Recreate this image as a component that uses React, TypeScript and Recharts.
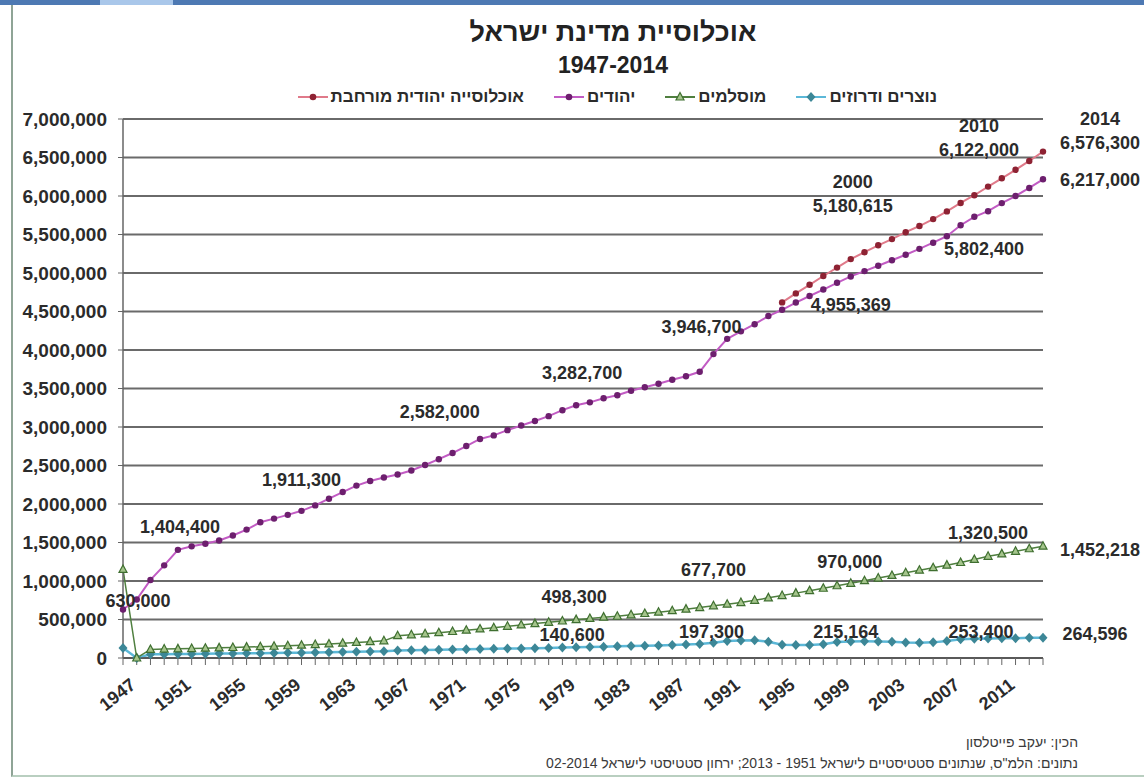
import React from "react";
import { LineChart, Line, XAxis, YAxis, CartesianGrid, LabelList } from "recharts";

const years = [
  1947, 1948, 1949, 1950, 1951, 1952, 1953, 1954, 1955, 1956, 1957, 1958, 1959, 1960, 1961, 1962, 1963,
  1964, 1965, 1966, 1967, 1968, 1969, 1970, 1971, 1972, 1973, 1974, 1975, 1976, 1977, 1978, 1979, 1980,
  1981, 1982, 1983, 1984, 1985, 1986, 1987, 1988, 1989, 1990, 1991, 1992, 1993, 1994, 1995, 1996, 1997,
  1998, 1999, 2000, 2001, 2002, 2003, 2004, 2005, 2006, 2007, 2008, 2009, 2010, 2011, 2012, 2013, 2014,
];

// יהודים
const jews = [
  630000, 759000, 1013900, 1203000, 1404400, 1450200, 1483600, 1526000, 1590500, 1667500, 1762700,
  1810200, 1858800, 1911300, 1981700, 2068900, 2155500, 2239200, 2299100, 2344900, 2383600, 2434800,
  2506800, 2582000, 2662000, 2752700, 2845000, 2890700, 2959400, 3020400, 3077300, 3141200, 3218400,
  3282700, 3320300, 3373200, 3412500, 3471700, 3517200, 3561400, 3612900, 3659000, 3717100, 3946700,
  4144600, 4242500, 4335200, 4441100, 4522300, 4616100, 4701600, 4785100, 4872800, 4955369, 5025000,
  5094200, 5165400, 5237600, 5313800, 5393400, 5478200, 5620000, 5730000, 5802400, 5907500, 5999600,
  6104500, 6217000,
];

// אוכלוסייה יהודית מורחבת
const expanded = [
  null, null, null, null, null, null, null, null, null, null, null, null, null, null, null, null, null,
  null, null, null, null, null, null, null, null, null, null, null, null, null, null, null, null, null,
  null, null, null, null, null, null, null, null, null, null, null, null, null, null,
  4618000, 4735000, 4847000, 4961000, 5070000, 5180615, 5270000, 5360000, 5440000, 5530000, 5610000,
  5700000, 5800000, 5910000, 6010000, 6122000, 6230000, 6340000, 6455000, 6576300,
];

// מוסלמים
const muslims = [
  1150000, 0, 111500, 116100, 118900, 122800, 127600, 131800, 136300, 141400, 146800, 152800, 159200,
  166300, 174900, 183000, 192200, 202300, 212400, 223000, 289600, 300800, 314500, 328600, 344000, 361000,
  377000, 394000, 411400, 429100, 446500, 463600, 480400, 498300, 513700, 530800, 542200, 561000, 577600,
  595000, 614500, 634600, 655200, 677700, 699000, 720000, 749000, 781000, 811200, 842500, 874600, 906000,
  938000, 970000, 1004000, 1038000, 1072000, 1107000, 1140000, 1173000, 1206000, 1240000, 1280000,
  1320500, 1352000, 1386000, 1419000, 1452218,
];

// נוצרים ודרוזים
const christians = [
  130000, 0, 48500, 50300, 51700, 53300, 55000, 57000, 58800, 60700, 62500, 64500, 66600, 68800, 71400,
  74100, 77000, 80100, 83200, 86400, 97000, 100600, 103800, 106700, 109700, 112800, 115800, 118800,
  121800, 124800, 127700, 131000, 135500, 140600, 144000, 147500, 151000, 155000, 159000, 163000, 168000,
  174000, 181000, 197300, 222000, 228000, 232000, 210000, 172000, 168000, 170000, 178000, 208000, 215164,
  216000, 215000, 212000, 200000, 198000, 203000, 222000, 243000, 250000, 253400, 258000, 255000, 262000,
  264596,
];

const yTicks = [
  0, 500000, 1000000, 1500000, 2000000, 2500000, 3000000, 3500000, 4000000, 4500000, 5000000, 5500000,
  6000000, 6500000, 7000000,
];

const data = years.map((year, i) => ({
  year,
  jews: jews[i],
  expanded: expanded[i],
  muslims: muslims[i],
  christians: christians[i],
}));

// label offsets from the point, by year
const jewsLabels: Record<number, [number, number]> = {
  1947: [15, -8], 1951: [2, -23], 1960: [0, -31], 1970: [1, -47], 1980: [6, -32],
  1990: [-12, -27], 2000: [0, 29], 2010: [-4, 38], 2014: [57, 1],
};
const expandedLabels: Record<number, [number, number]> = {
  2000: [2, -53], 2010: [-9, -37], 2014: [57, -9],
};
const muslimLabels: Record<number, [number, number]> = {
  1980: [-2, -23], 1990: [0, -36], 2000: [-1, -21], 2010: [0, -23], 2014: [57, 4],
};
const christianLabels: Record<number, [number, number]> = {
  1980: [-4, -12], 1990: [-2, -11], 2000: [-5, -9], 2010: [-7, -6], 2014: [52, -4],
};

const FONT = '"Liberation Sans", "DejaVu Sans", Arial, sans-serif';
const TEXT = "#2b2b2b";

const COLORS = {
  jews: { line: "#c25bc4", mark: "#6d1f6e" },
  expanded: { line: "#e07a8a", mark: "#8e2233" },
  muslims: { line: "#4f7f3f", mark: "#3f6f30", fill: "#a5c58c" },
  christians: { line: "#5cb8d8", mark: "#3c8797" },
};

const fmt = (v: number) => v.toLocaleString("en-US");

const makeLabel = (offsets: Record<number, [number, number]>, showYear = false) => (props: any) => {
  const { x, y, value, index } = props;
  if (value == null || x == null || y == null) return null;
  const year = years[index];
  const off = offsets[year];
  if (!off) return null;
  const lx = x + off[0];
  const ly = y + off[1];
  const style = { fontSize: 18, fontWeight: 700, fill: TEXT, fontFamily: FONT };
  return (
    <g key={`lbl-${index}`}>
      {showYear && (
        <text x={lx} y={ly - 24} textAnchor="middle" dominantBaseline="central" {...style}>
          {year}
        </text>
      )}
      <text x={lx} y={ly} textAnchor="middle" dominantBaseline="central" {...style}>
        {fmt(value)}
      </text>
    </g>
  );
};

const circleDot = (fill: string) => (props: any) => {
  const { cx, cy, index } = props;
  if (cy == null || cx == null) return <g key={`d-${index}`} />;
  return <circle key={`d-${index}`} cx={cx} cy={cy} r={3.2} fill={fill} />;
};

const triangleDot = (props: any) => {
  const { cx, cy, index } = props;
  if (cy == null || cx == null) return <g key={`t-${index}`} />;
  return (
    <path
      key={`t-${index}`}
      d={`M${cx},${cy - 4.5} L${cx + 4},${cy + 3} L${cx - 4},${cy + 3} Z`}
      fill={COLORS.muslims.fill}
      stroke={COLORS.muslims.mark}
      strokeWidth={1.2}
    />
  );
};

const diamondDot = (props: any) => {
  const { cx, cy, index } = props;
  if (cy == null || cx == null) return <g key={`m-${index}`} />;
  return (
    <path
      key={`m-${index}`}
      d={`M${cx},${cy - 5} L${cx + 4.5},${cy} L${cx},${cy + 5} L${cx - 4.5},${cy} Z`}
      fill={COLORS.christians.mark}
    />
  );
};

const YearTick = (props: any) => {
  const { x, y, payload } = props;
  if ((payload.value - 1947) % 4 !== 0) return <g />;
  const tx = x + 14;
  const ty = y + 20;
  return (
    <text
      x={tx}
      y={ty}
      transform={`rotate(-38 ${tx} ${ty})`}
      textAnchor="end"
      fontSize={18}
      fontWeight={700}
      fill={TEXT}
      fontFamily={FONT}
    >
      {payload.value}
    </text>
  );
};

const legendItems = [
  { name: "נוצרים ודרוזים", line: COLORS.christians.line, shape: "diamond" },
  { name: "מוסלמים", line: COLORS.muslims.line, shape: "triangle" },
  { name: "יהודים", line: COLORS.jews.line, shape: "circle" },
  { name: "אוכלוסייה יהודית מורחבת", line: COLORS.expanded.line, shape: "circle-red" },
];

function LegendMarker({ shape, line }: { shape: string; line: string }) {
  return (
    <svg width={30} height={14}>
      <line x1={0} y1={7} x2={30} y2={7} stroke={line} strokeWidth={2} />
      {shape === "diamond" && <path d="M15,2 L19.5,7 L15,12 L10.5,7 Z" fill={COLORS.christians.mark} />}
      {shape === "triangle" && (
        <path d="M15,2.5 L19,10 L11,10 Z" fill={COLORS.muslims.fill} stroke={COLORS.muslims.mark} strokeWidth={1.2} />
      )}
      {shape === "circle" && <circle cx={15} cy={7} r={3.3} fill={COLORS.jews.mark} />}
      {shape === "circle-red" && <circle cx={15} cy={7} r={3.3} fill={COLORS.expanded.mark} />}
    </svg>
  );
}

export default function App() {
  return (
    <div
      style={{
        position: "absolute",
        left: 0,
        top: 0,
        width: 1144,
        height: 784,
        background: "#fff",
        overflow: "hidden",
        fontFamily: FONT,
      }}
    >
      <div style={{ position: "absolute", left: 0, top: 0, width: 1144, height: 5, background: "#4d79b3" }} />
      <div style={{ position: "absolute", left: 100, top: 0, width: 73, height: 5, background: "#a9c7ea" }} />
      <div
        style={{
          position: "absolute",
          left: 11,
          top: 5,
          width: 1140,
          height: 770,
          borderLeft: "2px solid #8fa496",
          borderBottom: "2px solid #b9cfc0",
        }}
      />

      <div style={{ position: "absolute", left: 0, top: 0 }}>
        <LineChart width={1144} height={784} data={data} margin={{ top: 119, right: 101, bottom: 0, left: 0 }}>
          <CartesianGrid vertical={false} stroke="#6a6a6a" strokeWidth={1.8} />
          <XAxis
            dataKey="year"
            interval={0}
            height={126}
            tickSize={7}
            tick={<YearTick />}
            tickLine={{ stroke: "#666" }}
            axisLine={{ stroke: "#555", strokeWidth: 1.5 }}
          />
          <YAxis
            width={123}
            domain={[0, 7000000]}
            ticks={yTicks}
            interval={0}
            tickSize={5}
            tickMargin={11}
            tickFormatter={fmt}
            tick={{ fill: TEXT, fontSize: 19, fontWeight: 700, fontFamily: FONT }}
            tickLine={{ stroke: "#666" }}
            axisLine={{ stroke: "#666", strokeWidth: 1.5 }}
          />
          <Line
            type="linear"
            dataKey="christians"
            stroke={COLORS.christians.line}
            strokeWidth={2.5}
            dot={diamondDot}
            activeDot={false}
            isAnimationActive={false}
          >
            <LabelList dataKey="christians" content={makeLabel(christianLabels)} />
          </Line>
          <Line
            type="linear"
            dataKey="muslims"
            stroke={COLORS.muslims.line}
            strokeWidth={1.5}
            dot={triangleDot}
            activeDot={false}
            isAnimationActive={false}
          >
            <LabelList dataKey="muslims" content={makeLabel(muslimLabels)} />
          </Line>
          <Line
            type="linear"
            dataKey="expanded"
            stroke={COLORS.expanded.line}
            strokeWidth={2}
            dot={circleDot(COLORS.expanded.mark)}
            activeDot={false}
            isAnimationActive={false}
          >
            <LabelList dataKey="expanded" content={makeLabel(expandedLabels, true)} />
          </Line>
          <Line
            type="linear"
            dataKey="jews"
            stroke={COLORS.jews.line}
            strokeWidth={2}
            dot={circleDot(COLORS.jews.mark)}
            activeDot={false}
            isAnimationActive={false}
          >
            <LabelList dataKey="jews" content={makeLabel(jewsLabels)} />
          </Line>
        </LineChart>
      </div>

      <div
        style={{
          position: "absolute",
          left: 413,
          top: 17,
          width: 400,
          textAlign: "center",
          fontSize: 27,
          lineHeight: "30px",
          fontWeight: 700,
          color: "#222",
          direction: "rtl",
        }}
      >
        אוכלוסיית מדינת ישראל
      </div>
      <div
        style={{
          position: "absolute",
          left: 413,
          top: 52,
          width: 400,
          textAlign: "center",
          fontSize: 23,
          lineHeight: "26px",
          fontWeight: 700,
          color: "#222",
        }}
      >
        1947-2014
      </div>

      <div
        style={{
          position: "absolute",
          right: 207,
          top: 86,
          height: 22,
          display: "flex",
          direction: "rtl",
          alignItems: "center",
          gap: 30,
        }}
      >
        {legendItems.map((it) => (
          <div key={it.name} style={{ display: "flex", alignItems: "center", gap: 3 }}>
            <span style={{ fontSize: 17, fontWeight: 700, color: TEXT, whiteSpace: "nowrap" }}>{it.name}</span>
            <LegendMarker shape={it.shape} line={it.line} />
          </div>
        ))}
      </div>

      <div
        style={{
          position: "absolute",
          right: 66,
          top: 733,
          fontSize: 14,
          lineHeight: "18px",
          color: "#3a3a3a",
          direction: "rtl",
          textAlign: "right",
          whiteSpace: "nowrap",
        }}
      >
        הכין: יעקב פייטלסון
      </div>
      <div
        style={{
          position: "absolute",
          right: 66,
          top: 754,
          fontSize: 14,
          lineHeight: "18px",
          color: "#3a3a3a",
          direction: "rtl",
          textAlign: "right",
          whiteSpace: "nowrap",
        }}
      >
        נתונים: הלמ"ס, שנתונים סטטיסטיים לישראל 1951 - 2013; ירחון סטטיסטי לישראל 02-2014
      </div>
    </div>
  );
}
